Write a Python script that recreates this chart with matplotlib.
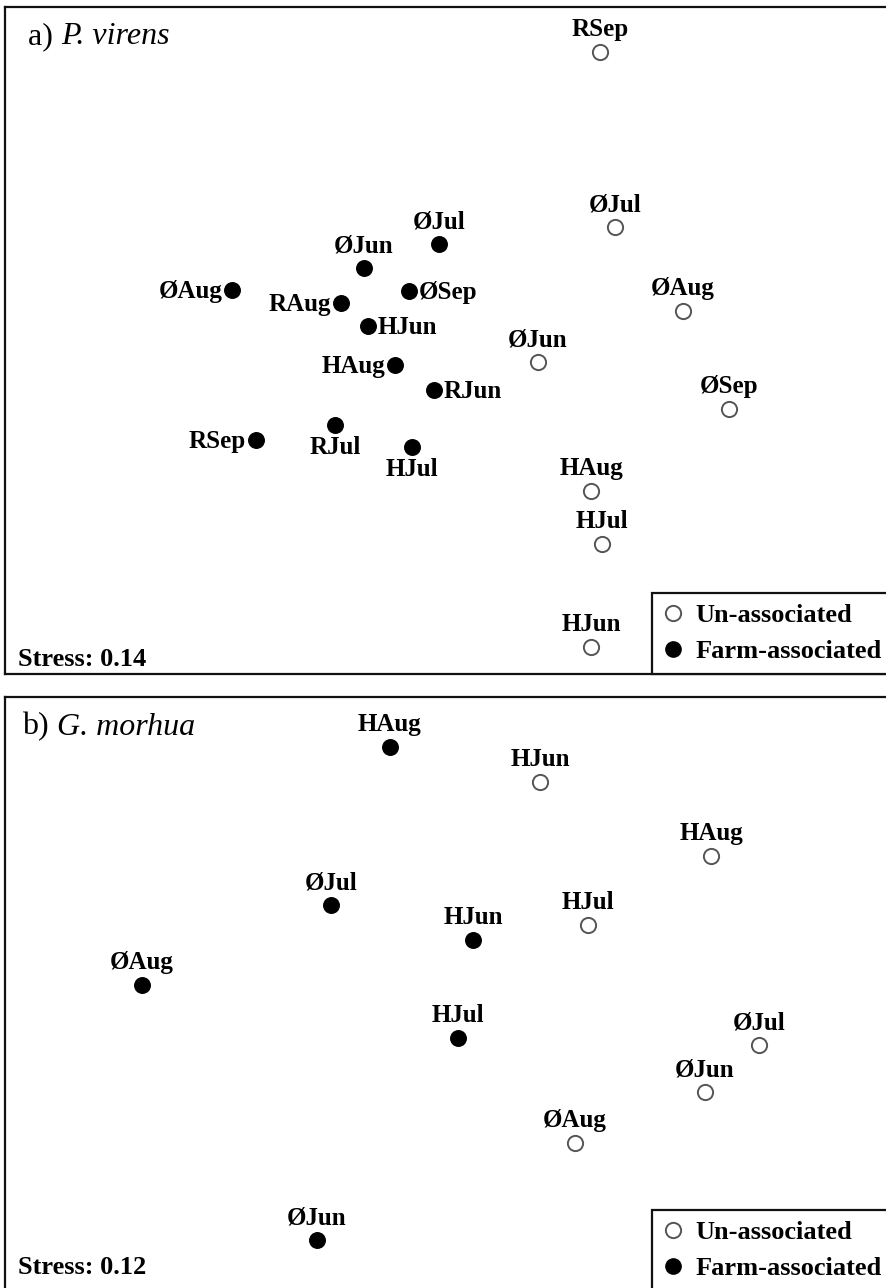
import matplotlib
matplotlib.use("Agg")
import matplotlib.pyplot as plt
from matplotlib.lines import Line2D

plt.rcParams['font.family'] = ['Liberation Serif', 'DejaVu Serif']

# NMDS positions (arbitrary units, y grows downward)
# panel a) P. virens
a_un_labels = ['RSep', 'ØJul', 'ØAug', 'ØJun', 'ØSep', 'HAug', 'HJul', 'HJun']
a_un_x = [600, 615, 683, 538, 729, 591, 602, 591]
a_un_y = [52, 227, 311, 362, 409, 491, 544, 647]
a_farm_labels = ['ØJul', 'ØJun', 'ØAug', 'RAug', 'ØSep', 'HJun', 'HAug',
                 'RJun', 'RJul', 'RSep', 'HJul']
a_farm_x = [439, 364, 232, 341, 409, 368, 395, 434, 335, 256, 412]
a_farm_y = [244, 268, 290, 303, 291, 326, 365, 390, 425, 440, 447]
a_stress = 0.14

# panel b) G. morhua
b_un_labels = ['HJun', 'HAug', 'HJul', 'ØJul', 'ØJun', 'ØAug']
b_un_x = [540, 711, 588, 759, 705, 575]
b_un_y = [782, 856, 925, 1045, 1092, 1143]
b_farm_labels = ['HAug', 'ØJul', 'HJun', 'ØAug', 'HJul', 'ØJun']
b_farm_x = [390, 331, 473, 142, 458, 317]
b_farm_y = [747, 905, 940, 985, 1038, 1240]
b_stress = 0.12

# where each label sits relative to its point
a_un_side = ['top'] * 8
a_farm_side = ['top', 'top', 'left', 'left', 'right', 'right', 'left',
               'right', 'bottom', 'left', 'bottom']
b_un_side = ['top'] * 6
b_farm_side = ['top'] * 6

W, H = 886, 1288
fig = plt.figure(figsize=(W / 100, H / 100), dpi=100)

offsets = {'top': ((0, 16), 'center', 'center'),
           'bottom': ((0, -16), 'center', 'center'),
           'left': ((-7, -1), 'right', 'center'),
           'right': ((7, -1), 'left', 'center')}


def panel(box, letter, species, un, farm, stress, title_x, stress_y):
    l, t, r, b = box
    ax = fig.add_axes([l / W, 1 - b / H, (r - l) / W, (b - t) / H])
    ax.set_xlim(l, r)
    ax.set_ylim(b, t)
    ax.set_xticks([])
    ax.set_yticks([])
    for s in ax.spines.values():
        s.set_linewidth(1.6)
        s.set_color('#111111')

    for (labels, xs, ys, sides), filled in ((un, False), (farm, True)):
        if filled:
            ax.scatter(xs, ys, s=125, c='black', edgecolors='black', zorder=3)
        else:
            ax.scatter(xs, ys, s=120, c='white', edgecolors='#555555',
                       linewidths=1.4, zorder=3)
        for lab, x, y, side in zip(labels, xs, ys, sides):
            off, ha, va = offsets[side]
            ax.annotate(lab, (x, y), xytext=off, textcoords='offset points',
                        ha=ha, va=va, fontsize=18, fontweight='bold')

    t1 = ax.text(title_x, t + 30, letter + ') ', fontsize=23,
                 ha='left', va='center')
    ax.annotate(species, xy=(1, 0), xycoords=t1, ha='left', va='bottom',
                fontsize=23, style='italic')

    ax.text(l + 13, stress_y, 'Stress: %.2f' % stress,
            fontsize=19, fontweight='bold', ha='left', va='center')

    handles = [Line2D([], [], ls='none', marker='o', ms=11, mfc='white',
                      mec='#555555', mew=1.4),
               Line2D([], [], ls='none', marker='o', ms=11, mfc='black',
                      mec='black')]
    leg = ax.legend(handles, ['Un-associated', 'Farm-associated'],
                    loc='lower right', bbox_to_anchor=(1, 0), borderaxespad=0,
                    frameon=True, fancybox=False, framealpha=1,
                    prop={'size': 19, 'weight': 'bold'},
                    handlelength=0.8, handletextpad=0.45, labelspacing=0.5,
                    borderpad=0.4)
    leg.get_frame().set_edgecolor('#111111')
    leg.get_frame().set_linewidth(1.6)
    return ax


panel((5, 7, 892, 674), 'a', 'P. virens',
      (a_un_labels, a_un_x, a_un_y, a_un_side),
      (a_farm_labels, a_farm_x, a_farm_y, a_farm_side), a_stress, 28, 659)
panel((5, 697, 892, 1291), 'b', 'G. morhua',
      (b_un_labels, b_un_x, b_un_y, b_un_side),
      (b_farm_labels, b_farm_x, b_farm_y, b_farm_side), b_stress, 22, 1268)

fig.savefig('out.png', dpi=100)
